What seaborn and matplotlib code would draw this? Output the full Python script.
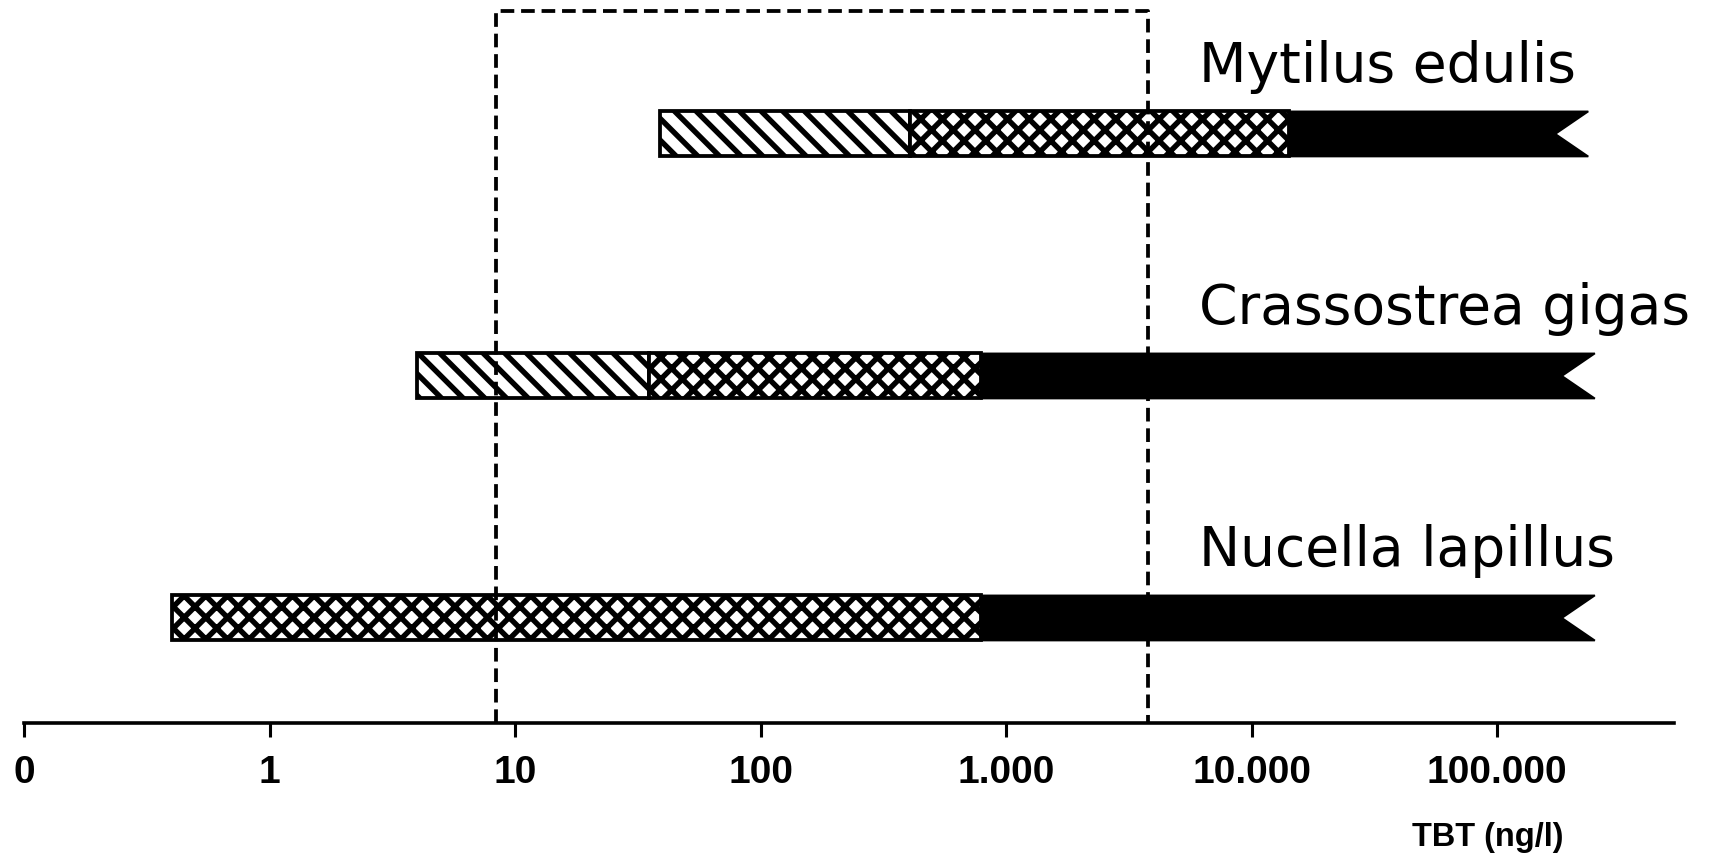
import matplotlib
matplotlib.use("Agg")
import matplotlib.pyplot as plt
import seaborn as sns
from matplotlib.ticker import FixedLocator, NullLocator

# TBT concentration ranges (ng/l) for three species, log scale
species = ["Nucella lapillus", "Crassostrea gigas", "Mytilus edulis"]
hatch_start = [None, 4.0, 39.0]       # diagonal hatched segment (start)
cross_start = [0.4, 35.0, 405.0]      # cross-hatched segment (start)
black_start = [790.0, 790.0, 14150.0] # black segment (start)
black_end = [250000.0, 250000.0, 235000.0]

# dashed box (range of environmental concentrations)
box_range = [8.4, 3800.0]

tick_values = [0.1, 1, 10, 100, 1000, 10000, 100000]
tick_labels = ["0", "1", "10", "100", "1.000", "10.000", "100.000"]

sns.set_style("white")
plt.rcParams["hatch.linewidth"] = 3.0
plt.rcParams["font.family"] = ["DejaVu Sans"]
plt.rcParams["text.color"] = "black"
plt.rcParams["xtick.color"] = "black"

DPI = 130
fig = plt.figure(figsize=(1727 / DPI, 860 / DPI), dpi=DPI)
ax = fig.add_axes([0.0139, 0.1593, 0.9554, 0.8279])
ax.set_xscale("log")
ax.set_xlim(0.1, 5.25e5)
ax.set_ylim(-0.434, 2.508)

bar_h = 0.186
notch = 10 ** 0.134
lw = 2.1

for i, name in enumerate(species):
    if hatch_start[i] is not None:
        ax.barh(i, cross_start[i] - hatch_start[i], left=hatch_start[i], height=bar_h,
                color="white", edgecolor="black", hatch="\\\\", linewidth=lw, zorder=2)
    ax.barh(i, black_start[i] - cross_start[i], left=cross_start[i], height=bar_h,
            color="white", edgecolor="black", hatch="xx", linewidth=lw, zorder=2)
    x0, x1 = black_start[i], black_end[i]
    ax.fill([x0, x1, x1 / notch, x1, x0],
            [i - bar_h / 2, i - bar_h / 2, i, i + bar_h / 2, i + bar_h / 2],
            color="black", edgecolor="black", linewidth=1, zorder=3)
    ax.text(6.1e3, i + 0.215, name, fontsize=30.5, va="baseline", ha="left",
            color="black")

# dashed rectangle
dash = (0, (3.6, 1.8))
ylo, yhi = ax.get_ylim()
ax.plot([box_range[0], box_range[0], box_range[1], box_range[1]],
        [ylo, yhi, yhi, ylo], color="black", linestyle=dash, linewidth=2.1,
        clip_on=False, zorder=4)

# axis
sns.despine(ax=ax, left=True, top=True, right=True)
ax.spines["bottom"].set_linewidth(2.0)
ax.spines["bottom"].set_color("black")
ax.set_yticks([])
ax.xaxis.set_major_locator(FixedLocator(tick_values))
ax.xaxis.set_minor_locator(NullLocator())
ax.set_xticklabels(tick_labels)
ax.tick_params(axis="x", direction="out", length=7.7, width=1.7, pad=10,
               colors="black", bottom=True)
for lab in ax.get_xticklabels():
    lab.set_family(["Liberation Sans Narrow", "Liberation Sans", "DejaVu Sans"])
    lab.set_fontweight("bold")
    lab.set_fontsize(21.5)

fig.text(0.9056, 0.0256, "TBT (ng/l)", ha="right", va="center", fontsize=18,
         fontweight="bold", color="black",
         family=["Liberation Sans Narrow", "Liberation Sans", "DejaVu Sans"])

fig.savefig("out.png", dpi=DPI)
